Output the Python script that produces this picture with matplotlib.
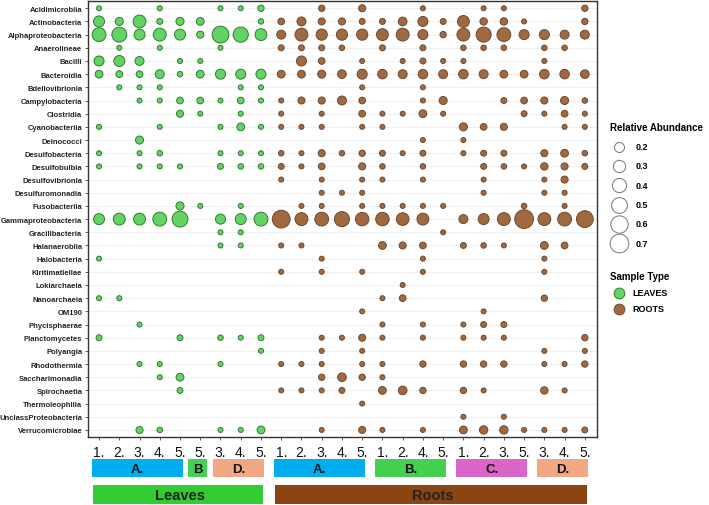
import numpy as np
import matplotlib
matplotlib.use("Agg")
import matplotlib.pyplot as plt
import matplotlib.transforms as mtransforms
from matplotlib.patches import Rectangle

plt.rcParams['font.family'] = ['Liberation Sans', 'DejaVu Sans']

classes = ["Acidimicrobiia", "Actinobacteria", "Alphaproteobacteria", "Anaerolineae",
           "Bacilli", "Bacteroidia", "Bdellovibrionia", "Campylobacteria", "Clostridia",
           "Cyanobacteriia", "Deinococci", "Desulfobacteria", "Desulfobulbia",
           "Desulfovibrionia", "Desulfuromonadia", "Fusobacteriia", "Gammaproteobacteria",
           "Gracilibacteria", "Halanaerobiia", "Halobacteria", "Kiritimatiellae",
           "Lokiarchaeia", "Nanoarchaeia", "OM190", "Phycisphaerae", "Planctomycetes",
           "Polyangia", "Rhodothermia", "Saccharimonadia", "Spirochaetia",
           "Thermoleophilia", "UnclassProteobacteria", "Verrucomicrobiae"]

leaf_ticks = ["1.", "2.", "3.", "4.", "5.", "5.", "3.", "4.", "5."]
root_ticks = ["1.", "2.", "3.", "4.", "5.", "1.", "2.", "4.", "5.",
              "1.", "2.", "3.", "5.", "3.", "4.", "5."]

# relative abundance per class (rows) and sample (columns)
leaves = [
    [.05, 0, 0, .05, 0, 0, .05, .05, .08],
    [.24, .13, .33, .07, .13, .12, 0, 0, .06],
    [.38, .44, .24, .33, .24, .10, .56, .46, .28],
    [0, .05, 0, .05, 0, 0, .05, 0, 0],
    [.20, .24, .16, 0, .05, .05, 0, 0, 0],
    [.12, .09, .09, .16, .06, .12, .20, .20, .20],
    [0, .05, .05, .05, 0, 0, 0, .05, .05],
    [0, 0, .05, .05, .09, .09, .05, .09, .05],
    [0, 0, 0, 0, .10, .05, 0, .05, 0],
    [.05, 0, 0, .05, 0, 0, .05, .12, .05],
    [0, 0, .13, 0, 0, 0, 0, 0, 0],
    [.05, 0, .05, .06, 0, 0, .05, .05, .05],
    [.05, 0, .05, .05, .05, 0, .07, .06, .06],
    [0, 0, 0, 0, 0, 0, 0, 0, 0],
    [0, 0, 0, 0, 0, 0, 0, 0, 0],
    [0, 0, 0, 0, .13, .05, 0, .05, 0],
    [.24, .28, .28, .38, .50, 0, .20, .24, .38],
    [0, 0, 0, 0, 0, 0, .05, .05, 0],
    [0, 0, 0, 0, 0, 0, .05, .05, 0],
    [.05, 0, 0, 0, 0, 0, 0, 0, 0],
    [0, 0, 0, 0, 0, 0, 0, 0, 0],
    [0, 0, 0, 0, 0, 0, 0, 0, 0],
    [.05, .05, 0, 0, 0, 0, 0, 0, 0],
    [0, 0, 0, 0, 0, 0, 0, 0, 0],
    [0, 0, .05, 0, 0, 0, 0, 0, 0],
    [.07, 0, 0, 0, .07, 0, .06, .05, .07],
    [0, 0, 0, 0, 0, 0, 0, 0, .05],
    [0, 0, .05, .05, 0, 0, .05, 0, 0],
    [0, 0, 0, .05, .12, 0, 0, 0, 0],
    [0, 0, 0, 0, .07, 0, 0, 0, 0],
    [0, 0, 0, 0, 0, 0, 0, 0, 0],
    [0, 0, 0, 0, 0, 0, 0, 0, 0],
    [0, 0, .10, .06, 0, 0, .05, .05, .12],
]

roots = [
    [0, 0, .08, 0, .10, 0, 0, .05, 0, 0, .05, .05, 0, 0, 0, .08],
    [.09, .16, .10, .10, .07, .07, .15, .20, .07, .28, .11, .11, .05, 0, 0, .08],
    [.16, .33, .25, .25, .25, .28, .33, .20, .08, .33, .45, .38, .20, .20, .16, .16],
    [.07, .07, .07, .06, 0, .07, 0, .07, 0, .06, .06, .06, 0, .06, .06, 0],
    [0, .20, .09, 0, .05, 0, .05, .07, .05, .05, 0, 0, 0, .05, 0, 0],
    [.12, .12, .13, .15, .20, .18, .16, .18, .16, .18, .16, .12, .12, .18, .18, .15],
    [0, 0, 0, 0, .05, 0, 0, .05, 0, 0, 0, 0, 0, 0, 0, 0],
    [.05, .10, .10, .16, .09, 0, 0, .05, .13, 0, 0, .07, .09, .10, .13, .06],
    [.05, 0, .05, 0, .09, .05, .05, .12, .05, 0, 0, 0, .07, .05, .09, .05],
    [.05, .05, .05, 0, .05, .05, 0, 0, 0, .13, .09, .10, 0, 0, .05, .05],
    [0, 0, 0, 0, 0, 0, 0, .05, 0, .05, 0, 0, 0, 0, 0, 0],
    [.06, .05, .10, .06, .08, .07, .05, .07, 0, .05, .07, .07, 0, .10, .12, .06],
    [.07, .05, .09, 0, .10, .06, 0, .06, 0, 0, .07, .06, .05, .11, .10, .07],
    [.05, 0, .05, 0, .05, .05, 0, .05, 0, 0, .05, 0, 0, .05, .10, 0],
    [0, 0, .05, .05, .05, 0, 0, 0, 0, 0, .05, 0, 0, .05, .05, 0],
    [0, .05, .05, 0, .05, .05, .05, .05, .05, 0, 0, 0, .06, 0, .05, 0],
    [.63, .33, .38, .45, .36, .36, .32, .28, 0, .16, .24, .33, .70, .33, .38, .56],
    [0, 0, 0, 0, 0, 0, 0, 0, .05, 0, 0, 0, 0, 0, 0, 0],
    [.05, .05, 0, 0, 0, .12, .10, .09, 0, .07, .06, .05, 0, .12, .09, 0],
    [0, 0, .05, 0, 0, 0, 0, .05, 0, 0, 0, 0, 0, .05, 0, 0],
    [.05, 0, .05, 0, .05, 0, 0, .05, 0, 0, 0, 0, 0, .05, 0, 0],
    [0, 0, 0, 0, 0, 0, .05, 0, 0, 0, 0, 0, 0, 0, 0, 0],
    [0, 0, 0, 0, 0, .05, .09, 0, 0, 0, 0, 0, 0, .08, 0, 0],
    [0, 0, 0, 0, .05, 0, 0, 0, 0, 0, .05, 0, 0, 0, 0, 0],
    [0, 0, 0, 0, 0, .05, 0, .05, 0, .05, .07, .07, 0, 0, 0, 0],
    [0, 0, .05, .05, .10, .05, 0, .05, 0, .05, .05, .05, 0, 0, 0, .08],
    [0, 0, .05, 0, .05, 0, 0, 0, 0, 0, 0, 0, 0, .05, 0, .05],
    [.05, .05, .05, 0, .05, .05, 0, .08, 0, .08, .08, .08, 0, .05, .05, .08],
    [0, 0, .08, .15, .08, .05, 0, 0, 0, 0, 0, 0, 0, 0, 0, 0],
    [.05, .05, .05, .07, 0, .12, .15, .08, 0, .08, .05, 0, 0, .11, .05, 0],
    [0, 0, 0, 0, .05, 0, 0, 0, 0, 0, 0, 0, 0, 0, 0, 0],
    [0, 0, 0, 0, 0, 0, 0, 0, 0, .05, 0, .05, 0, 0, 0, 0],
    [0, 0, .05, 0, .10, .05, 0, .05, 0, .12, .14, .14, .05, .05, .05, .07],
]

# site groups: (label, first col, last col, colour)
site_groups = [("A.", 0, 4, "#00AEEF"), ("B", 5, 5, "#44D152"), ("D.", 6, 8, "#F2A883"),
               ("A.", 9, 13, "#00AEEF"), ("B.", 14, 17, "#44D152"),
               ("C.", 18, 21, "#D966C8"), ("D.", 22, 24, "#F2A883")]
type_groups = [("Leaves", 0, 8, "#33CC33"), ("Roots", 9, 24, "#8B4513")]

legend_sizes = [0.2, 0.3, 0.4, 0.5, 0.6, 0.7]
size_k = 260

green_fc, green_ec = "#63D463", "#2F7A2F"
brown_fc, brown_ec = "#A0693F", "#6B4A30"

leaves = np.array(leaves)
roots = np.array(roots)
nl = leaves.shape[1]
nrow = len(classes)

fig = plt.figure(figsize=(7.09, 5.06), dpi=100)
ax = fig.add_axes([0.124, 0.134, 0.718, 0.862])

for mat, off, fc, ec in [(leaves, 0, green_fc, green_ec), (roots, nl, brown_fc, brown_ec)]:
    r, c = np.nonzero(mat)
    ax.scatter(c + off, r, s=mat[r, c] * size_k, facecolor=fc, edgecolor=ec,
               linewidth=0.7, zorder=3)

ax.set_xlim(-0.55, 24.6)
ax.set_ylim(nrow - 0.45, -0.55)
ax.set_yticks(range(nrow))
ax.set_yticklabels(classes, fontsize=5.5, fontweight="bold", color="#222222")
ax.set_xticks(range(nl + roots.shape[1]))
ax.set_xticklabels(leaf_ticks + root_ticks, fontsize=10, color="#111111")
ax.tick_params(axis="both", length=2.5, width=0.6, color="#444444", pad=1.5)
ax.tick_params(axis="x", pad=3)
ax.grid(axis="y", color="#ECECEC", linewidth=0.6, zorder=0)
ax.set_axisbelow(True)
for sp in ax.spines.values():
    sp.set_color("#333333")
    sp.set_linewidth(1.0)

# coloured group bars under the axis
trans = mtransforms.blended_transform_factory(ax.transData, fig.transFigure)
for label, a, b, col in site_groups:
    left = a - 0.35 - (0.25 if a == b else 0)
    right = b + 0.15 + (0.2 if a == b else 0)
    ax.add_patch(Rectangle((left, 0.055), right - left, 0.035, transform=trans,
                           facecolor=col, edgecolor="none", clip_on=False))
    ax.text((left + right) / 2, 0.072, label, transform=trans, ha="center", va="center",
            fontsize=9.5, fontweight="bold", color="#111111")
for label, a, b, col in type_groups:
    ax.add_patch(Rectangle((a - 0.3, 0.002), b - a + 0.4, 0.037, transform=trans,
                           facecolor=col, edgecolor="none", clip_on=False))
    ax.text((a + b) / 2, 0.02, label, transform=trans, ha="center", va="center",
            fontsize=10.5, fontweight="bold", color="#222222")

# legends
size_handles = [plt.scatter([], [], s=v * size_k, facecolor="white", edgecolor="#777777",
                            linewidth=0.7) for v in legend_sizes]
leg1 = fig.legend(size_handles, [str(v) for v in legend_sizes], title="Relative Abundance",
                  loc="upper left", bbox_to_anchor=(0.855, 0.765), frameon=False,
                  fontsize=6.5, title_fontsize=7.0, labelspacing=1.15, handletextpad=0.9,
                  borderaxespad=0, alignment="left")
leg1.get_title().set_fontweight("bold")
for t in leg1.get_texts():
    t.set_fontweight("bold")

type_handles = [plt.scatter([], [], s=60, facecolor=green_fc, edgecolor=green_ec, linewidth=0.7),
                plt.scatter([], [], s=60, facecolor=brown_fc, edgecolor=brown_ec, linewidth=0.7)]
leg2 = fig.legend(type_handles, ["LEAVES", "ROOTS"], title="Sample Type",
                  loc="upper left", bbox_to_anchor=(0.855, 0.47), frameon=False,
                  fontsize=6.5, title_fontsize=7.0, labelspacing=0.8, handletextpad=0.5,
                  borderaxespad=0, alignment="left")
leg2.get_title().set_fontweight("bold")
for t in leg2.get_texts():
    t.set_fontweight("bold")

fig.savefig("out.png", dpi=100)
